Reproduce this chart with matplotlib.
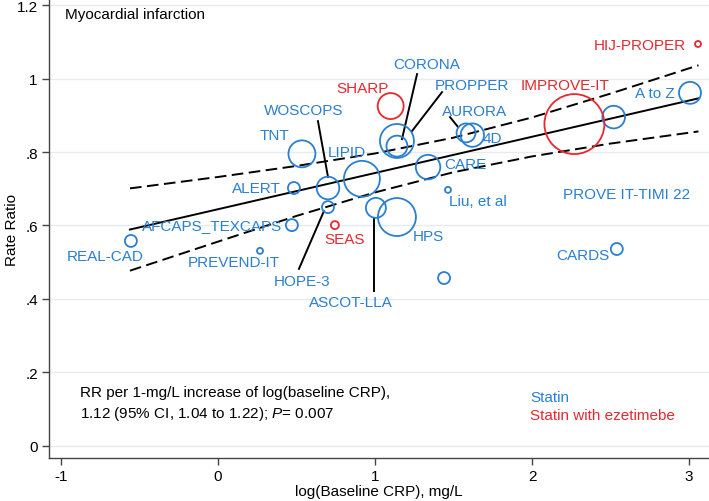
import numpy as np
import matplotlib
matplotlib.use("Agg")
import matplotlib.pyplot as plt

plt.rcParams["font.family"] = ["Liberation Sans", "DejaVu Sans"]
plt.rcParams["mathtext.fontset"] = "custom"
plt.rcParams["mathtext.rm"] = "Liberation Sans"
plt.rcParams["mathtext.it"] = "Liberation Sans:italic"
plt.rcParams["axes.unicode_minus"] = False

BLUE = "#2a7fd0"
RED = "#e8282f"
FS = 11

# ----------------------------------------------------------------------
# Data
# ----------------------------------------------------------------------
trials = ["REAL-CAD", "PREVEND-IT", "AFCAPS_TEXCAPS", "ALERT", "TNT",
          "WOSCOPS", "HOPE-3", "SEAS", "LIPID", "ASCOT-LLA", "HPS",
          "SHARP", "CORONA", "PROPPER", "CARE", "Liu, et al", "",
          "AURORA", "4D", "IMPROVE-IT", "PROVE IT-TIMI 22", "CARDS",
          "A to Z", "HIJ-PROPER"]
log_crp = [-0.554, 0.268, 0.471, 0.484, 0.535,
           0.701, 0.701, 0.745, 0.917, 1.006, 1.140,
           1.100, 1.140, 1.140, 1.338, 1.465, 1.440,
           1.580, 1.620, 2.270, 2.520, 2.540,
           3.006, 3.057]
rate_ratio = [0.558, 0.531, 0.601, 0.702, 0.795,
              0.702, 0.650, 0.601, 0.727, 0.648, 0.623,
              0.925, 0.830, 0.816, 0.759, 0.697, 0.457,
              0.852, 0.846, 0.876, 0.895, 0.536,
              0.961, 1.094]
weight = [36, 9, 36, 36, 182,
          128, 36, 16, 324, 100, 361,
          169, 289, 110, 150, 9, 36,
          90, 137, 900, 128, 36,
          121, 9]
ezetimibe = [0, 0, 0, 0, 0,
             0, 0, 1, 0, 0, 0,
             1, 0, 0, 0, 0, 0,
             0, 0, 1, 0, 0,
             0, 1]

# fitted line and 95% CI read at several x positions
fit_x = [-0.56, 3.06]
fit_y = [0.589, 0.946]
ci_x = [-0.56, 0.0, 0.5, 1.0, 1.5, 2.0, 2.5, 3.06]
ci_upper = [0.701, 0.732, 0.762, 0.796, 0.839, 0.894, 0.959, 1.036]
ci_lower = [0.477, 0.556, 0.626, 0.690, 0.745, 0.788, 0.823, 0.856]

y_ticks = [0, 0.2, 0.4, 0.6, 0.8, 1.0, 1.2]
y_tick_labels = ["0", ".2", ".4", ".6", ".8", "1", "1.2"]
x_ticks = [-1, 0, 1, 2, 3]

# label anchor (left edge, vertical centre) for each trial name
label_pos = {
    "REAL-CAD": (-0.962, 0.517), "PREVEND-IT": (-0.191, 0.501),
    "AFCAPS_TEXCAPS": (-0.484, 0.601), "ALERT": (0.089, 0.702),
    "TNT": (0.268, 0.846), "WOSCOPS": (0.293, 0.914),
    "HOPE-3": (0.357, 0.449), "SEAS": (0.675, 0.563),
    "LIPID": (0.701, 0.800), "ASCOT-LLA": (0.580, 0.392),
    "HPS": (1.242, 0.571), "SHARP": (0.752, 0.974),
    "CORONA": (1.115, 1.039), "PROPPER": (1.382, 0.982),
    "CARE": (1.439, 0.767), "Liu, et al": (1.471, 0.667),
    "AURORA": (1.427, 0.912), "4D": (1.688, 0.838),
    "IMPROVE-IT": (1.930, 0.982), "PROVE IT-TIMI 22": (2.197, 0.686),
    "CARDS": (2.153, 0.520), "A to Z": (2.656, 0.961),
    "HIJ-PROPER": (2.395, 1.091),
}

# leader lines from label to marker
leaders = [
    ((0.637, 0.884), (0.701, 0.732)),   # WOSCOPS
    ((1.268, 1.012), (1.172, 0.835)),   # CORONA
    ((1.427, 0.963), (1.236, 0.857)),   # PROPPER
    ((1.478, 0.895), (1.529, 0.868)),   # AURORA
    ((0.516, 0.482), (0.675, 0.639)),   # HOPE-3
    ((0.994, 0.422), (0.994, 0.620)),   # ASCOT-LLA
]

# ----------------------------------------------------------------------
fig = plt.figure(figsize=(7.09, 5.02), dpi=100)
ax = fig.add_axes([0.069, 0.0857, 0.931, 0.914])

ax.set_xlim(-1.076, 3.127)
ax.set_ylim(-0.0327, 1.216)

for yt in y_ticks:
    ax.axhline(yt, color="#e4ecf2", lw=1.0, zorder=0)

# fit line and CI
ax.plot(fit_x, fit_y, color="black", lw=1.4, zorder=2)
ax.plot(ci_x, ci_upper, color="black", lw=1.4, dashes=(6, 2.8), zorder=2)
ax.plot(ci_x, ci_lower, color="black", lw=1.4, dashes=(6, 2.8), zorder=2)

for p0, p1 in leaders:
    ax.plot([p0[0], p1[0]], [p0[1], p1[1]], color="black", lw=1.4, zorder=2)

x = np.array(log_crp)
y = np.array(rate_ratio)
w = np.array(weight, dtype=float)
ez = np.array(ezetimibe, dtype=bool)
s = 2.07 * w
ax.scatter(x[~ez], y[~ez], s=s[~ez], facecolors="none", edgecolors=BLUE,
           linewidths=1.3, zorder=3)
ax.scatter(x[ez], y[ez], s=s[ez], facecolors="none", edgecolors=RED,
           linewidths=1.3, zorder=3)

for name, is_ez in zip(trials, ezetimibe):
    if name == "":
        continue
    lx, ly = label_pos[name]
    ax.text(lx, ly, name, color=RED if is_ez else BLUE, fontsize=FS,
            ha="left", va="center", zorder=4)

ax.text(-0.975, 1.176, "Myocardial infarction", fontsize=FS,
        ha="left", va="center")
ax.text(-0.879, 0.147, "RR per 1-mg/L increase of log(baseline CRP),",
        fontsize=FS, ha="left", va="center")
ax.text(-0.879, 0.090, r"1.12 (95% CI, 1.04 to 1.22); $\mathit{P}$= 0.007",
        fontsize=FS, ha="left", va="center")
ax.text(1.987, 0.133, "Statin", color=BLUE, fontsize=FS,
        ha="left", va="center")
ax.text(1.987, 0.084, "Statin with ezetimebe", color=RED, fontsize=FS,
        ha="left", va="center")

ax.set_yticks(y_ticks)
ax.set_yticklabels(y_tick_labels)
ax.set_xticks(x_ticks)
ax.tick_params(axis="both", labelsize=FS, length=5, width=1.0,
               color="#444444", pad=3)
for side in ["top", "right"]:
    ax.spines[side].set_visible(False)
for side in ["left", "bottom"]:
    ax.spines[side].set_color("#444444")
    ax.spines[side].set_linewidth(1.0)

ax.set_xlabel("log(Baseline CRP), mg/L", fontsize=FS, va="center")
ax.xaxis.set_label_coords(0.5, -0.073)
ax.set_ylabel("Rate Ratio", fontsize=FS, va="center")
ax.yaxis.set_label_coords(-0.056, 0.5)

fig.savefig("out.png", dpi=100)
